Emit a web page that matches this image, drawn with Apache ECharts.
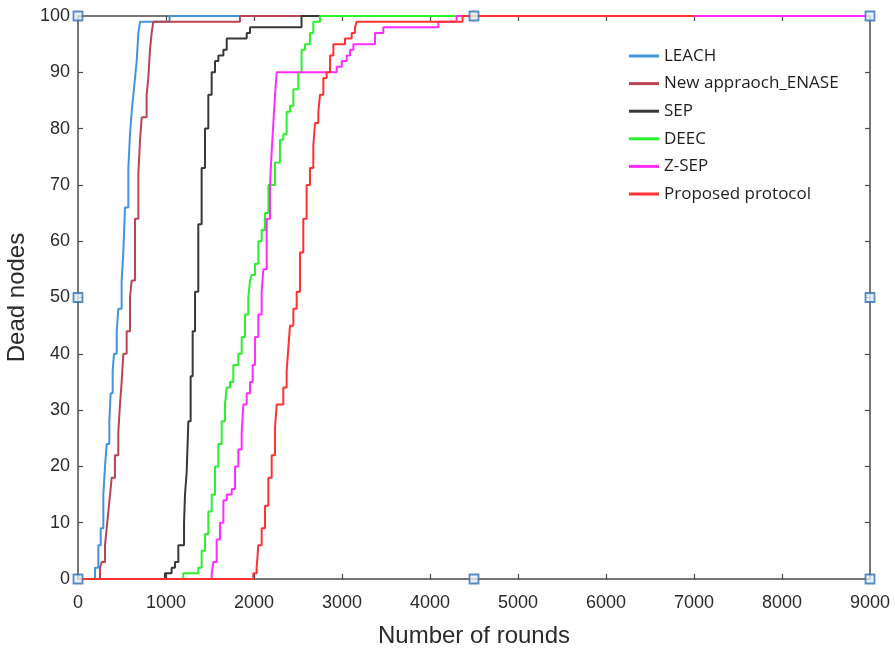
<!DOCTYPE html>
<html>
<head>
<meta charset="utf-8">
<title>Dead nodes vs rounds</title>
<script src="https://cdn.jsdelivr.net/npm/echarts@6/dist/echarts.min.js"></script>
<style>
  html, body { margin: 0; padding: 0; background: #ffffff; }
  #chart { width: 895px; height: 651px; }
</style>
</head>
<body>
<div id="chart"></div>
<script>
// Number of dead nodes over simulation rounds, one staircase per protocol.
const seriesNames = ['LEACH', 'New appraoch_ENASE', 'SEP', 'DEEC', 'Z-SEP', 'Proposed protocol'];

const leachRounds = [0, 193, 231, 258, 288, 307, 326, 356, 371, 394, 409, 440, 458, 496, 515, 534, 572, 591, 610, 629, 648, 667, 686, 705, 1040, 9000];
const leachDead   = [0, 2, 6, 9, 15, 20, 24, 28, 33, 37, 40, 44, 48, 53, 58, 66, 73, 79, 83, 86, 89, 92, 97, 99, 100, 100];

const enaseRounds = [0, 250, 269, 307, 326, 345, 364, 383, 420, 458, 477, 496, 515, 553, 591, 610, 648, 686, 705, 724, 780, 799, 818, 837, 856, 1840, 9000];
const enaseDead   = [0, 2, 3, 6, 9, 12, 15, 18, 22, 26, 31, 35, 40, 44, 50, 53, 64, 72, 78, 82, 86, 89, 94, 97, 99, 100, 100];

const sepRounds = [0, 988, 1064, 1102, 1140, 1205, 1216, 1235, 1254, 1280, 1303, 1330, 1367, 1405, 1443, 1481, 1519, 1557, 1595, 1652, 1690, 1917, 1955, 2540, 9000];
const sepDead   = [0, 1, 2, 3, 6, 10, 15, 19, 28, 36, 44, 51, 63, 73, 80, 86, 90, 92, 93, 94, 96, 97, 98, 100, 100];

const deecRounds = [0, 1197, 1367, 1405, 1443, 1481, 1519, 1557, 1595, 1633, 1670, 1690, 1727, 1765, 1822, 1860, 1898, 1935, 1955, 1973, 2011, 2049, 2087, 2125, 2163, 2239, 2295, 2333, 2371, 2409, 2447, 2503, 2541, 2580, 2636, 2674, 2750, 9000];
const deecDead   = [0, 1, 2, 5, 8, 12, 15, 20, 24, 28, 31, 34, 35, 38, 40, 43, 47, 50, 53, 54, 56, 60, 62, 65, 70, 74, 78, 79, 83, 84, 87, 90, 94, 95, 97, 99, 100, 100];

const zsepRounds = [0, 1519, 1538, 1576, 1614, 1652, 1690, 1747, 1784, 1822, 1860, 1879, 1917, 1955, 1985, 2011, 2049, 2087, 2106, 2144, 2182, 2201, 2220, 2239, 2258, 2939, 2997, 3053, 3091, 3129, 3375, 3470, 4095, 4303, 9000];
const zsepDead   = [0, 1, 3, 7, 10, 14, 15, 16, 20, 23, 26, 31, 33, 35, 38, 43, 47, 51, 55, 64, 70, 76, 81, 86, 90, 91, 92, 93, 94, 95, 97, 98, 99, 100, 100];

const propRounds = [0, 1992, 2030, 2049, 2087, 2125, 2163, 2201, 2239, 2258, 2333, 2371, 2390, 2409, 2447, 2485, 2523, 2560, 2598, 2636, 2674, 2693, 2731, 2750, 2788, 2826, 2864, 2902, 3034, 3110, 3148, 3167, 4370, 7000];
const propDead   = [0, 1, 2, 6, 9, 13, 18, 22, 27, 31, 34, 37, 41, 45, 48, 51, 58, 64, 70, 73, 77, 81, 83, 86, 89, 90, 93, 95, 96, 97, 98, 99, 100, 100];

// Figure edit handles shown on the axes box
const handleRounds = [0, 0, 0, 4500, 4500, 9000, 9000, 9000];
const handleDead   = [0, 50, 100, 0, 100, 0, 50, 100];

const xTicks = { min: 0, max: 9000, interval: 1000 };
const yTicks = { min: 0, max: 100, interval: 10 };

const colors = ['#4095dc', '#bb4352', '#383838', '#2cf02c', '#ff2cff', '#ff3232'];

const zip = (xs, ys) => xs.map((x, i) => [x, ys[i]]);
const curves = [
  zip(leachRounds, leachDead),
  zip(enaseRounds, enaseDead),
  zip(sepRounds, sepDead),
  zip(deecRounds, deecDead),
  zip(zsepRounds, zsepDead),
  zip(propRounds, propDead)
];

const axisColor = '#4a4a4a';
const plainNumber = v => String(v);
const tickFont = { fontFamily: 'Liberation Sans, Arial, sans-serif', fontSize: 18, color: '#2a2a2a' };
const titleFont = { fontFamily: 'Liberation Sans, Arial, sans-serif', fontSize: 24, color: '#2a2a2a' };

function boxAxis(extra) {
  return Object.assign({
    type: 'value',
    splitLine: { show: false },
    axisLine: { show: true, onZero: false, lineStyle: { color: axisColor, width: 1.5 } },
    axisTick: { show: true, inside: true, length: 5, lineStyle: { color: axisColor, width: 1.2 } }
  }, extra);
}

const chart = echarts.init(document.getElementById('chart'), null, { renderer: 'canvas' });

const option = {
  backgroundColor: '#ffffff',
  animation: false,
  grid: { left: 78, right: 25, top: 16, bottom: 72, containLabel: false, outerBoundsMode: 'none' },
  legend: {
    data: seriesNames,
    orient: 'vertical',
    left: 624,
    top: 42,
    itemWidth: 30,
    itemHeight: 3,
    itemGap: 9.6,
    icon: 'rect',
    textStyle: { fontFamily: 'Open Sans, sans-serif', fontSize: 17, color: '#1e1e1e', lineHeight: 18 }
  },
  xAxis: [
    boxAxis(Object.assign({}, xTicks, {
      position: 'bottom',
      name: 'Number of rounds',
      nameLocation: 'middle',
      nameGap: 45,
      nameTextStyle: titleFont,
      axisLabel: Object.assign({ margin: 15, formatter: plainNumber }, tickFont)
    })),
    boxAxis(Object.assign({}, xTicks, { position: 'top', axisLabel: { show: false } }))
  ],
  yAxis: [
    boxAxis(Object.assign({}, yTicks, {
      position: 'left',
      name: 'Dead nodes',
      nameLocation: 'middle',
      nameGap: 43,
      nameTextStyle: titleFont,
      axisLabel: Object.assign({ margin: 8, formatter: plainNumber }, tickFont)
    })),
    boxAxis(Object.assign({}, yTicks, { position: 'right', axisLabel: { show: false } }))
  ],
  series: curves.map((data, i) => ({
    name: seriesNames[i],
    type: 'line',
    step: 'end',
    data: data,
    showSymbol: false,
    symbol: 'none',
    color: colors[i],
    lineStyle: { color: colors[i], width: 2 },
    z: 2 + i,
    silent: true
  })).concat([{
    type: 'scatter',
    data: zip(handleRounds, handleDead),
    symbol: 'rect',
    symbolSize: 9,
    itemStyle: { color: '#e4eef8', borderColor: '#2f70b6', borderWidth: 1.8 },
    z: 20,
    silent: true
  }])
};

chart.setOption(option);
</script>
</body>
</html>
